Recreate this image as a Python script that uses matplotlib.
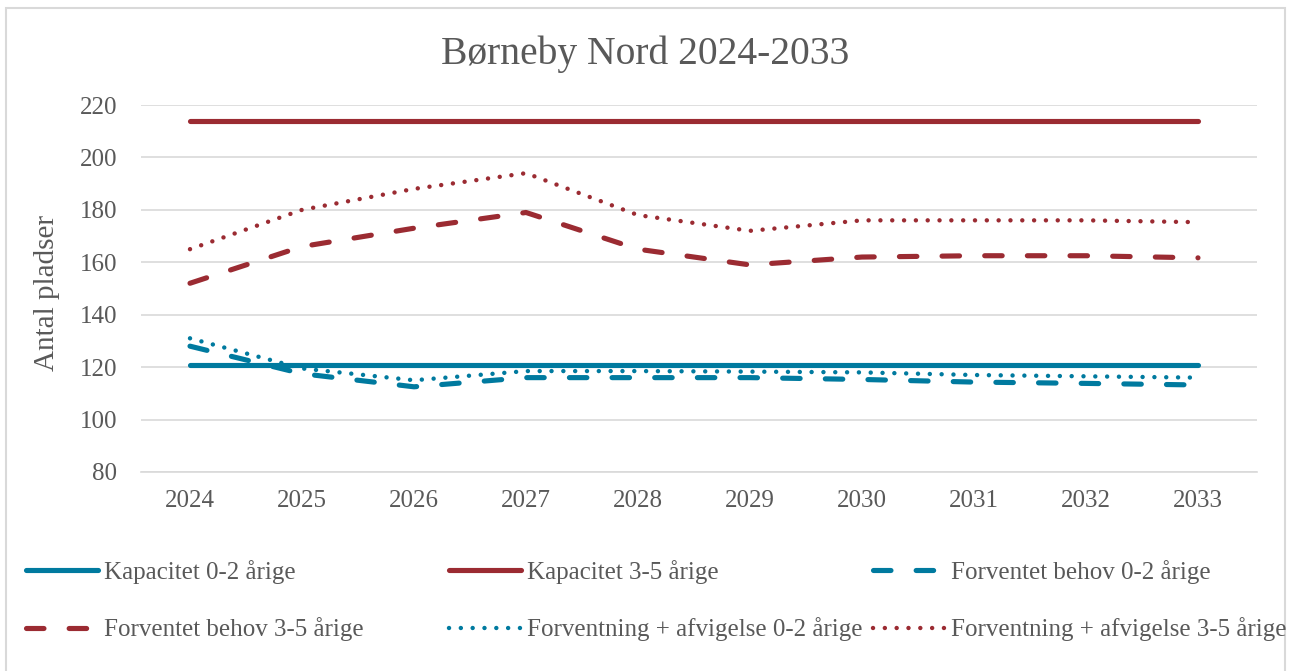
import matplotlib
matplotlib.use('Agg')
import matplotlib.pyplot as plt
from matplotlib.patches import Rectangle

# Chart values
years = ['2024', '2025', '2026', '2027', '2028', '2029', '2030', '2031', '2032', '2033']
kap_02 = [121, 121, 121, 121, 121, 121, 121, 121, 121, 121]
kap_35 = [214, 214, 214, 214, 214, 214, 214, 214, 214, 214]
behov_02 = [128, 117.5, 112.5, 116, 116, 116, 115.3, 114.3, 113.8, 113.2]
behov_35 = [152, 166, 173, 179, 165, 159, 162, 162.5, 162.5, 161.7]
afv_02 = [131, 119.5, 115, 118.5, 118.5, 118.3, 118, 117, 116.5, 116]
afv_35 = [165, 180, 188, 194, 178, 172, 176, 176, 176, 175.3]

labels = ['Kapacitet 0-2 årige', 'Kapacitet 3-5 årige', 'Forventet behov 0-2 årige',
          'Forventet behov 3-5 årige', 'Forventning + afvigelse 0-2 årige',
          'Forventning + afvigelse 3-5 årige']

blue = '#007A9F'
red = '#9B2B32'
text_color = '#595959'
grid_color = '#D9D9D9'

plt.rcParams['font.family'] = ['Liberation Serif', 'DejaVu Serif']

W, H = 1293, 671
fig = plt.figure(figsize=(W / 100, H / 100), dpi=100)

# light border round the chart
fig.patches.append(Rectangle((6 / W, -0.05), (1285 - 6) / W, 1.05 - 7.5 / H,
                             transform=fig.transFigure, fill=False,
                             edgecolor=grid_color, linewidth=1.5))

ax = fig.add_axes([141 / W, 1 - 472 / H, (1257 - 141) / W, (472 - 105) / H])
x = list(range(len(years)))

lw = 3.7
solid = dict(linewidth=lw, solid_capstyle='round')
dashed = dict(linewidth=lw, dash_capstyle='round', dashes=(3.4, 4.9))
dotted = dict(linewidth=3.2, dash_capstyle='round', dashes=(0.01, 2.65))

lines = []
lines += ax.plot(x, kap_02, color=blue, label=labels[0], **solid)
lines += ax.plot(x, kap_35, color=red, label=labels[1], **solid)
lines += ax.plot(x, behov_02, color=blue, label=labels[2], **dashed)
lines += ax.plot(x, behov_35, color=red, label=labels[3], **dashed)
lines += ax.plot(x, afv_02, color=blue, label=labels[4], **dotted)
lines += ax.plot(x, afv_35, color=red, label=labels[5], **dotted)

ax.set_xlim(-0.4375, 9.527)
ax.set_ylim(80, 220)
ax.set_yticks(range(80, 221, 20))
ax.set_xticks(x)
ax.set_xticklabels(years)
ax.grid(axis='y', color=grid_color, linewidth=1.2)
ax.set_axisbelow(True)
for s in ['top', 'right', 'left']:
    ax.spines[s].set_visible(False)
ax.spines['bottom'].set_color(grid_color)
ax.spines['bottom'].set_linewidth(1.2)
ax.tick_params(axis='both', length=0, labelsize=18, colors=text_color)
ax.tick_params(axis='y', pad=17)
ax.tick_params(axis='x', pad=13)

ax.set_ylabel('Antal pladser', fontsize=21, color=text_color)
ax.yaxis.set_label_coords(-0.0726, 0.489)

fig.text(645.5 / W, 1 - 64 / H, 'Børneby Nord 2024-2033', fontsize=28.5,
         color=text_color, ha='center', va='baseline')

# legend: three columns placed by hand, filled row by row like the original
col_x = [26, 449, 873]
col_items = [[0, 3], [1, 4], [2, 5]]
for cx, items in zip(col_x, col_items):
    leg = fig.legend([lines[i] for i in items], [labels[i] for i in items],
                     loc='center left', bbox_to_anchor=(cx / W, 1 - 600.5 / H),
                     frameon=False, fontsize=18, handlelength=2.88,
                     handletextpad=0.24, labelspacing=1.36, borderpad=0,
                     borderaxespad=0, labelcolor=text_color)

fig.savefig('out.png', dpi=100)
